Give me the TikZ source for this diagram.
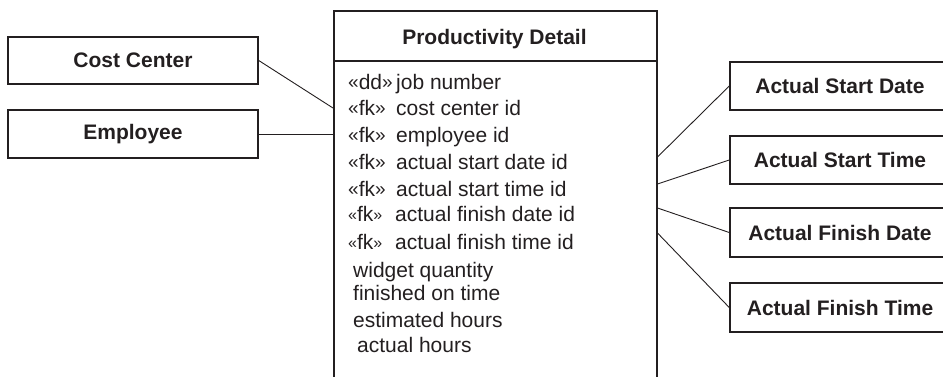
\documentclass[tikz,border=0pt]{standalone}
\usepackage{fontspec}
\setmainfont{Liberation Sans}
\definecolor{ink}{HTML}{231F20}
\begin{document}
\begin{tikzpicture}[x=1pt,y=-1pt,
  box/.style={draw=ink,line width=1.5pt,rectangle,inner sep=0pt,font=\fontsize{21}{24}\selectfont\bfseries,text=ink},
  attr/.style={anchor=base west,inner sep=0pt,font=\fontsize{21}{24}\selectfont,text=ink},
  conn/.style={draw=ink,line width=0.9pt}]
\useasboundingbox (0,0) rectangle (943,376);
\clip (0,0) rectangle (943,376);
% left entities
\node[box,minimum width=250,minimum height=47] (cc) at (133,60.5) {Cost Center};
\node[box,minimum width=250,minimum height=48] (emp) at (133,134) {Employee};
% main entity
\node[draw=ink,line width=1.5pt,rectangle,inner sep=0pt,anchor=north west,minimum width=323,minimum height=390] (pd) at (333,10) {};
\node[anchor=base,inner sep=0pt,font=\fontsize{21}{24}\selectfont\bfseries,text=ink] (title) at (494.5,44) {Productivity Detail};
\coordinate (divl) at (333,61);
\draw[ink,line width=1.5pt] (divl) -- (divl -| pd.east);
% attributes
\newcommand{\gq}[2]{\raisebox{0.5pt}{\fontsize{#1}{#1}\selectfont #2}}
\newcommand{\pre}[2]{\makebox[48pt][l]{\gq{19}{«}#2\gq{19}{»}}}
\newcommand{\spre}[2]{\makebox[47pt][l]{\gq{16}{«}#2\gq{16}{»}}}
\node[attr] (a1) at (348,89) {\pre{}{dd}job number};
\node[attr] (a2) at (348,115) {\pre{}{fk}cost center id};
\node[attr] (a3) at (348,142) {\pre{}{fk}employee id};
\node[attr] (a4) at (348,169) {\pre{}{fk}actual start date id};
\node[attr] (a5) at (348,196) {\pre{}{fk}actual start time id};
\node[attr] (a6) at (348,221) {\spre{}{fk}actual finish date id};
\node[attr] (a7) at (348,249) {\spre{}{fk}actual finish time id};
\node[attr] (a8) at (353,277) {widget quantity};
\node[attr] (a9) at (353,300) {finished on time};
\node[attr] (a10) at (353,327) {estimated hours};
\node[attr] (a11) at (357,352) {actual hours};
% right entities
\node[box,minimum width=220,minimum height=48] (sd) at (840,86) {Actual Start Date};
\node[box,minimum width=220,minimum height=48] (st) at (840,160) {Actual Start Time};
\node[box,minimum width=220,minimum height=49] (fd) at (840,232.5) {Actual Finish Date};
\node[box,minimum width=220,minimum height=49] (ft) at (840,307.5) {Actual Finish Time};
% connectors
\draw[conn] (cc.east) -- (pd.west |- 0,108);
\draw[conn] (emp.east) -- (pd.west |- emp.east);
\draw[conn] (pd.east |- 0,157) -- (sd.west);
\draw[conn] (pd.east |- 0,184) -- (st.west);
\draw[conn] (pd.east |- 0,208) -- (fd.west);
\draw[conn] (pd.east |- 0,233) -- (ft.west);
\end{tikzpicture}
\end{document}
